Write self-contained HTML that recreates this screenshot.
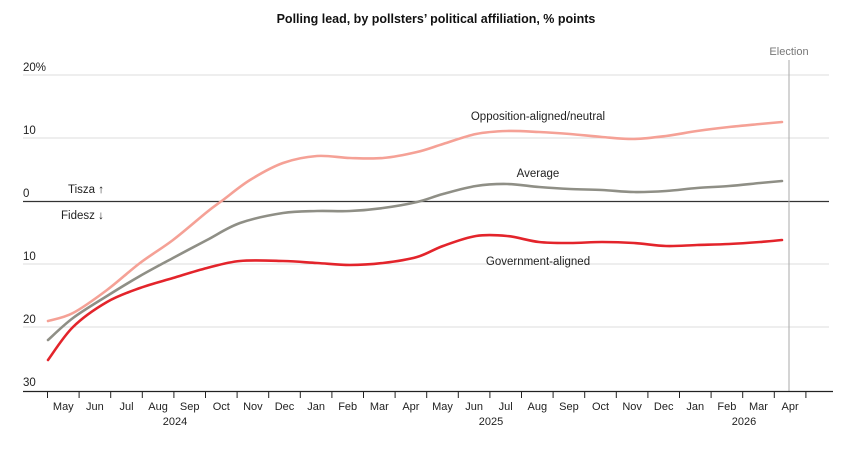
<!DOCTYPE html>
<html><head><meta charset="utf-8"><style>
body{margin:0;background:#fff;}
svg{display:block;font-family:"Liberation Sans",sans-serif;}
</style></head><body>
<svg width="859" height="453" viewBox="0 0 859 453">
<text x="436" y="23" text-anchor="middle" font-size="12.5" font-weight="bold" fill="#111">Polling lead, by pollsters’ political affiliation, % points</text>
<g stroke="#ddd" stroke-width="1">
<line x1="23" y1="75" x2="829" y2="75"/>
<line x1="23" y1="138" x2="829" y2="138"/>
<line x1="23" y1="264" x2="829" y2="264"/>
<line x1="23" y1="327" x2="829" y2="327"/>
</g>
<line x1="23" y1="201.5" x2="829" y2="201.5" stroke="#333" stroke-width="1.2"/>
<line x1="789" y1="60" x2="789" y2="391" stroke="#aaa" stroke-width="1"/>
<text x="789" y="55" text-anchor="middle" font-size="11" fill="#777">Election</text>
<g font-size="11.5" fill="#222">
<text x="23" y="71">20%</text>
<text x="23" y="134">10</text>
<text x="23" y="197">0</text>
<text x="23" y="260">10</text>
<text x="23" y="323">20</text>
<text x="23" y="386">30</text>
</g>
<text x="68" y="193" font-size="11.5" fill="#222">Tisza ↑</text>
<text x="61" y="219" font-size="11.5" fill="#222">Fidesz ↓</text>
<g id="curves" fill="none" stroke-width="2.6" stroke-linecap="round"></g>
<text x="538" y="120" text-anchor="middle" font-size="11.5" fill="#222">Opposition-aligned/neutral</text>
<text x="538" y="177" text-anchor="middle" font-size="11.5" fill="#222">Average</text>
<text x="538" y="265" text-anchor="middle" font-size="11.5" fill="#222">Government-aligned</text>
<line x1="23" y1="391.5" x2="833" y2="391.5" stroke="#222" stroke-width="1.3"/>
<g id="ticks" stroke="#222" stroke-width="1"></g>
<g id="months" font-size="11" fill="#222" text-anchor="middle"></g>
<g font-size="11" fill="#222" text-anchor="middle">
<text x="175" y="425">2024</text>
<text x="491" y="425">2025</text>
<text x="744" y="425">2026</text>
</g>
</svg>
<script>
var ns="http://www.w3.org/2000/svg";
var months=["May","Jun","Jul","Aug","Sep","Oct","Nov","Dec","Jan","Feb","Mar","Apr","May","Jun","Jul","Aug","Sep","Oct","Nov","Dec","Jan","Feb","Mar","Apr"];
var t=document.getElementById("ticks"),m=document.getElementById("months");
for(var i=0;i<=24;i++){var x=47.5+31.6*i;var l=document.createElementNS(ns,"line");l.setAttribute("x1",x);l.setAttribute("x2",x);l.setAttribute("y1",391);l.setAttribute("y2",398);t.appendChild(l);
if(i<24){var tx=document.createElementNS(ns,"text");tx.setAttribute("x",x+15.8);tx.setAttribute("y",410);tx.textContent=months[i];m.appendChild(tx);}}
function path(p){var d="M"+p[0][0]+","+p[0][1];for(var i=0;i<p.length-1;i++){var p0=p[i-1]||p[i],p1=p[i],p2=p[i+1],p3=p[i+2]||p2;
d+=" C"+(p1[0]+(p2[0]-p0[0])/6)+","+(p1[1]+(p2[1]-p0[1])/6)+" "+(p2[0]-(p3[0]-p1[0])/6)+","+(p2[1]-(p3[1]-p1[1])/6)+" "+p2[0]+","+p2[1];}return d;}
var opp=[[48,321],[73,313],[107,290],[140,263],[173,240],[207,212],[223,200],[250,180],[283,163],[317,156],[350,158],[383,158],[417,152],[443,144],[476,134],[507,131],[539,132],[570,134],[602,137],[634,139],[666,136],[697,131],[729,127],[760,124],[782,122]];
var avg=[[48,340],[73,318],[107,296],[140,276],[173,258],[207,240],[240,223],[283,213],[317,211],[350,211],[383,208],[417,202],[443,194],[476,186],[507,184],[539,187],[570,189],[602,190],[634,192],[666,191],[697,188],[729,186],[760,183],[782,181]];
var gov=[[48,360],[73,327],[107,302],[140,288],[173,278],[207,268],[240,261],[283,261],[317,263],[350,265],[383,263],[417,257],[443,246],[476,236],[507,236],[539,242],[570,243],[602,242],[634,243],[666,246],[697,245],[729,244],[760,242],[782,240]];
var g=document.getElementById("curves");
[[opp,"#f5a196"],[avg,"#8f8f86"],[gov,"#e3242b"]].forEach(function(s){var p=document.createElementNS(ns,"path");p.setAttribute("d",path(s[0]));p.setAttribute("stroke",s[1]);g.appendChild(p);});
</script>
</body></html>
